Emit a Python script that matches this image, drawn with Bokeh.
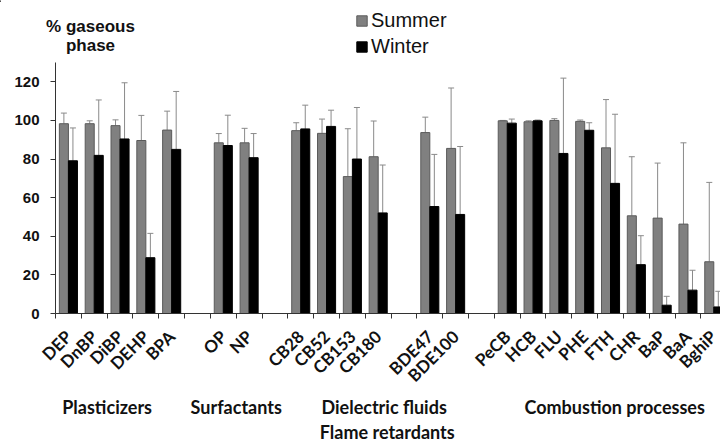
import numpy as np
from bokeh.plotting import figure
from bokeh.layouts import column
from bokeh.models import (ColumnDataSource, Range1d, FixedTicker, Whisker, TeeHead,
                          Label, Legend, LegendItem)
from bokeh.embed import file_html
from bokeh.resources import INLINE

# ---------------- data ----------------
group_names = ["Plasticizers", "Surfactants", "Dielectric fluids", "Flame retardants", "Combustion processes"]
plasticizers = ["DEP", "DnBP", "DiBP", "DEHP", "BPA"]
surfactants = ["OP", "NP"]
dielectric = ["CB28", "CB52", "CB153", "CB180"]
flame = ["BDE47", "BDE100"]
combustion = ["PeCB", "HCB", "FLU", "PHE", "FTH", "CHR", "BaP", "BaA", "BghiP"]
series_names = ["Summer", "Winter"]

summer = [98.3, 98.3, 97.3, 89.6, 95.0,
          88.4, 88.4,
          94.7, 93.3, 70.9, 81.2,
          93.7, 85.5,
          99.8, 99.3, 100.0, 99.5, 85.8, 50.6, 49.4, 46.3, 26.8]
summer_sd = [5.5, 1.5, 3.0, 13.0, 9.8,
             4.8, 7.5,
             4.1, 7.4, 24.8, 18.5,
             8.0, 31.3,
             0.2, 0.5, 0.9, 0.7, 25.0, 30.6, 28.5, 42.1, 41.1]
winter = [79.1, 81.9, 90.4, 28.9, 85.0,
          87.0, 80.7,
          95.6, 96.9, 80.0, 52.1,
          55.4, 51.3,
          98.6, 99.8, 82.9, 94.9, 67.4, 25.3, 4.3, 12.1, 3.4]
winter_sd = [17.0, 28.7, 29.1, 12.6, 30.0,
             15.7, 12.5,
             12.3, 8.4, 26.7, 24.8,
             27.0, 35.2,
             2.1, 0.4, 39.0, 3.9, 35.8, 15.0, 4.6, 10.3, 8.1]

y_ticks = [0, 20, 40, 60, 80, 100, 120]

# ---------------- positions (slot index, one empty slot between groups) ----------------
groups = [plasticizers, surfactants, dielectric, flame, combustion]
names, centers, group_mid = [], [], []
slot = 0
for g in groups:
    start = slot
    for nm in g:
        names.append(nm)
        centers.append(slot + 0.5)
        slot += 1
    group_mid.append((start + slot) / 2)
    slot += 1
n_slots = slot - 1
centers = np.array(centers)
bw = 0.35

W = 720
LEFT = 55
x_rng = Range1d(0, 25.76)

src_s = ColumnDataSource(dict(x=centers - bw / 2, top=summer,
                              up=np.array(summer) + np.array(summer_sd)))
src_w = ColumnDataSource(dict(x=centers + bw / 2, top=winter,
                              up=np.array(winter) + np.array(winter_sd)))

GRAY, GRAY_LINE, BLACK = "#808080", "#5a5a5a", "#000000"


def bare(fig):
    fig.outline_line_color = None
    fig.grid.grid_line_color = None
    fig.axis.visible = False
    return fig


# ---------------- top strip: axis title + legend ----------------
top = bare(figure(width=W, height=62, output_backend="svg", toolbar_location=None,
                  x_range=Range1d(0, W), y_range=Range1d(62, 0),
                  min_border_left=0, min_border_right=0, min_border_top=0, min_border_bottom=0))
top.frame_align = False
for txt, yv in (("% gaseous", 26), ("phase", 45)):
    top.add_layout(Label(x=90, y=yv, text=txt, text_align="center", text_baseline="alphabetic",
                         text_font="Liberation Sans", text_font_style="bold",
                         text_font_size="17px", text_color="#111111"))
# legend swatches (proxy renderers placed off-screen; only their legend glyphs show)
lg_s = top.vbar(x=[-100], top=[1], width=1, fill_color=GRAY, line_color=GRAY_LINE)
lg_w = top.vbar(x=[-100], top=[1], width=1, fill_color=BLACK, line_color=BLACK)
legend = Legend(items=[LegendItem(label=series_names[0], renderers=[lg_s]),
                       LegendItem(label=series_names[1], renderers=[lg_w])],
                location=(355, 4), orientation="vertical",
                border_line_color=None, background_fill_alpha=0,
                padding=0, margin=0, spacing=3,
                glyph_width=13, glyph_height=13, label_standoff=3,
                label_text_font="Liberation Sans", label_text_font_size="20px",
                label_text_color="#111111")
top.add_layout(legend, "center")

# ---------------- main chart ----------------
p = figure(width=W, height=334, output_backend="svg", toolbar_location=None,
           x_range=x_rng, y_range=Range1d(0, 130),
           min_border_left=LEFT, min_border_right=0, min_border_top=0, min_border_bottom=80)
p.outline_line_color = None
p.grid.grid_line_color = None

p.vbar(x="x", top="top", width=bw, source=src_s, fill_color=GRAY,
       line_color=GRAY_LINE, line_width=1)
p.vbar(x="x", top="top", width=bw, source=src_w, fill_color=BLACK,
       line_color=BLACK, line_width=1)

for src in (src_s, src_w):
    p.add_layout(Whisker(source=src, base="x", upper="up", lower="top",
                         line_color="#8a8a8a", line_width=1,
                         upper_head=TeeHead(size=6, line_color="#8a8a8a", line_width=1),
                         lower_head=None))

xa = p.xaxis[0]
xa.ticker = FixedTicker(ticks=list(centers), minor_ticks=list(range(0, n_slots + 1)))
xa.major_label_overrides = {float(c): nm for c, nm in zip(centers, names)}
xa.major_tick_out = 0
xa.major_tick_in = 0
xa.minor_tick_out = 5
xa.minor_tick_in = 0
xa.minor_tick_line_color = "#333333"
xa.axis_line_color = "#333333"
xa.major_label_orientation = np.pi / 4
xa.major_label_standoff = 15
xa.major_label_text_font = "Lato"
xa.major_label_text_font_style = "bold"
xa.major_label_text_font_size = "17px"
xa.major_label_text_color = "#111111"

ya = p.yaxis[0]
ya.ticker = FixedTicker(ticks=y_ticks)
ya.major_tick_out = 5
ya.major_tick_in = 0
ya.minor_tick_out = 0
ya.minor_tick_in = 0
ya.axis_line_color = "#333333"
ya.major_tick_line_color = "#333333"
ya.major_label_standoff = 11
ya.major_label_text_font = "Liberation Sans"
ya.major_label_text_font_style = "bold"
ya.major_label_text_font_size = "15px"
ya.major_label_text_color = "#111111"

# ---------------- bottom strip: group names ----------------
bot = bare(figure(width=W, height=47, output_backend="svg", toolbar_location=None,
                  x_range=x_rng, y_range=Range1d(47, 0),
                  min_border_left=LEFT, min_border_right=0, min_border_top=0, min_border_bottom=0))
group_pos = [(-0.5, 10), (0.0, 10), (-0.77, 10), (-0.65, 35), (0.16, 10)]
mids = [group_mid[0], group_mid[1], 13.5, 13.5, group_mid[4]]
for nm, m, (dx, gy) in zip(group_names, mids, group_pos):
    bot.add_layout(Label(x=m + dx, y=gy, text=nm, text_align="center", text_baseline="middle",
                         text_font="Lato", text_font_style="bold",
                         text_font_size="18px", text_color="#111111"))

layout = column(top, p, bot, spacing=0)
open("out.html", "w").write(file_html(layout, INLINE))
